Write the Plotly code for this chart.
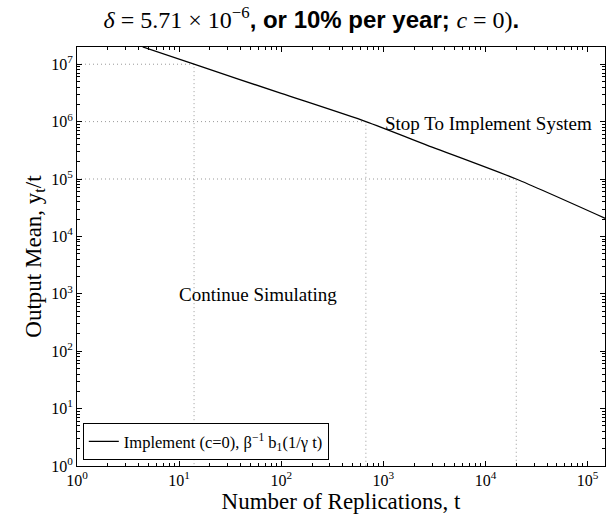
import plotly.graph_objects as go

# Boundary curve
t_vals = [4.4, 14, 100, 674, 3000, 20000, 150000]
y_vals = [2.0e7, 1.0e7, 3.1e6, 1.0e6, 3.6e5, 1.0e5, 2.05e4]

# Dotted reference lines (threshold points on the curve)
ref_t = [14, 674, 20000]
ref_y = [1e7, 1e6, 1e5]

x_tickvals = [1, 10, 100, 1000, 10000, 100000]
x_ticktext = ["10<sup>%d</sup>" % i for i in range(6)]
y_tickvals = [1, 10, 100, 1000, 1e4, 1e5, 1e6, 1e7]
y_ticktext = ["10<sup>%d</sup>" % i for i in range(8)]

SERIF = "Liberation Serif"
fig = go.Figure()

for tt, yy in zip(ref_t, ref_y):
    fig.add_trace(go.Scatter(x=[1, tt, tt], y=[yy, yy, 1], mode="lines",
                             line=dict(color="#999999", width=1, dash="1px,3px"),
                             showlegend=False, hoverinfo="skip"))

fig.add_trace(go.Scatter(x=t_vals, y=y_vals, mode="lines",
                         line=dict(color="black", width=1.3, shape="spline", smoothing=0.6),
                         name="Implement (c=0), β<sup>−1</sup> b<sub>1</sub>(1/γ t)"))

# annotation positions in log10 units (log axes)
fig.add_annotation(x=1.77, y=2.99, xref="x", yref="y", text="Continue Simulating",
                   showarrow=False, font=dict(family=SERIF, size=19, color="black"))
fig.add_annotation(x=4.03, y=5.97, xref="x", yref="y", text="Stop To Implement System",
                   showarrow=False, font=dict(family=SERIF, size=19, color="black"))

axis_common = dict(type="log", showgrid=False, zeroline=False, showline=True,
                   linecolor="black", linewidth=1, mirror="allticks",
                   ticks="inside", ticklen=5, tickcolor="black",
                   tickfont=dict(family=SERIF, size=16, color="black"),
                   minor=dict(ticks="inside", ticklen=3, tickcolor="black", dtick="D1"))

fig.update_xaxes(range=[0, 5.17], tickvals=x_tickvals, ticktext=x_ticktext,
                 title=dict(text="Number of Replications, t", standoff=1,
                            font=dict(family=SERIF, size=23, color="black")),
                 **axis_common)
fig.update_yaxes(range=[0, 7.30], tickvals=y_tickvals, ticktext=y_ticktext,
                 title=dict(text="Output Mean, y<sub>t</sub>/t", standoff=3,
                            font=dict(family=SERIF, size=23, color="black")),
                 **axis_common)

title_text = ('<span style="font-family:Liberation Serif"><i>δ</i> = 5.71 × 10<sup>−6</sup></span>'
              '<b>, or 10% per year; </b>'
              '<span style="font-family:Liberation Serif"><i>c</i> = 0)</span><b>.</b>')

fig.update_layout(
    width=607, height=518,
    margin=dict(l=77, r=2, t=47, b=52),
    paper_bgcolor="white", plot_bgcolor="white",
    title=dict(text=title_text, x=0.513, xanchor="center", y=0.962, yanchor="middle",
               font=dict(family="Liberation Sans", size=24, color="black")),
    legend=dict(x=0.011, y=0.014, xanchor="left", yanchor="bottom",
                bgcolor="white", bordercolor="black", borderwidth=1,
                font=dict(family=SERIF, size=16.5, color="black"),
                itemwidth=30, tracegroupgap=0),
)

fig.write_html("out.html")
